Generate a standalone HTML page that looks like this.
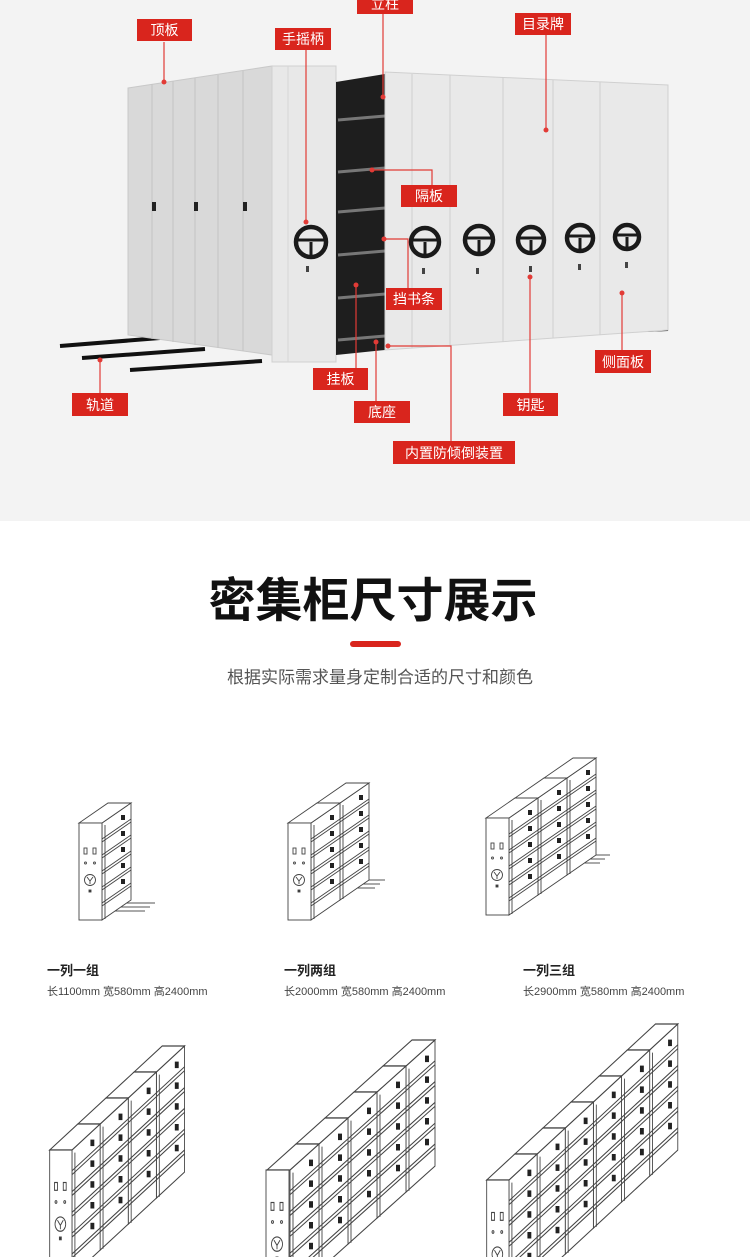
<!DOCTYPE html>
<html><head><meta charset="utf-8"><style>
html,body{margin:0;padding:0;width:750px;height:1257px;overflow:hidden;background:#fff;font-family:"Liberation Sans","Noto Sans CJK SC",sans-serif}
svg{position:absolute;left:0;top:0}
</style></head><body>
<svg width="750" height="1257" viewBox="0 0 750 1257" xmlns="http://www.w3.org/2000/svg">
<defs>
<g id="bay" fill="none" stroke="#444" stroke-width="0.9">
  <polygon points="0,0 29,-20 29,77 0,97" fill="#fff"/>
  <line x1="3" y1="2" x2="3" y2="96"/>
  <path d="M0,16 L29,-4 M0,19 L29,-1 M0,32 L29,12 M0,35 L29,15 M0,48 L29,28 M0,51 L29,31 M0,64 L29,44 M0,67 L29,47 M0,80 L29,60 M0,83 L29,63"/>
  <rect x="19" y="-8" width="4" height="5" fill="#222" stroke="none"/>
  <rect x="19" y="8" width="4" height="5" fill="#222" stroke="none"/>
  <rect x="19" y="24" width="4" height="5" fill="#222" stroke="none"/>
  <rect x="19" y="40" width="4" height="5" fill="#222" stroke="none"/>
  <rect x="19" y="56" width="4" height="5" fill="#222" stroke="none"/>
  <polygon points="-23,0 0,0 29,-20 6,-20" fill="#fff"/>
</g>
<g id="end" fill="none" stroke="#444" stroke-width="0.9">
  <rect x="0" y="0" width="23" height="97" fill="#fff"/>
  <rect x="5" y="25" width="3" height="6" /><rect x="14" y="25" width="3" height="6"/>
  <circle cx="6.5" cy="40" r="1"/><circle cx="15.5" cy="40" r="1"/>
  <circle cx="11" cy="57" r="5.5"/><path d="M8,54 L11,58 L14,54 M11,58 L11,61"/>
  <rect x="10" y="67" width="2" height="2" fill="#333"/>
</g>
<g id="rails" stroke="#555" stroke-width="1">
  <path d="M0,0 H30 M-5,4 H25 M-10,8 H20"/>
</g>
</defs>

<rect x="0" y="0" width="750" height="521" fill="#f3f3f3"/>
<g stroke="#111" stroke-width="4">
<line x1="60" y1="346" x2="160" y2="338"/>
<line x1="82" y1="358" x2="205" y2="349"/>
<line x1="130" y1="370" x2="262" y2="361"/>
<line x1="645" y1="330" x2="668" y2="329"/>
</g>
<polygon points="128,88 272,66 272,355 128,335" fill="#d9d9d9" stroke="#c8c8c8"/>
<g stroke="#c4c4c4"><line x1="152" y1="84" x2="152" y2="339"/><line x1="173" y1="81" x2="173" y2="342"/><line x1="195" y1="78" x2="195" y2="345"/><line x1="218" y1="75" x2="218" y2="348"/><line x1="243" y1="71" x2="243" y2="351"/></g>
<rect x="152" y="202" width="4" height="9" fill="#222"/><rect x="194" y="202" width="4" height="9" fill="#222"/><rect x="243" y="202" width="4" height="9" fill="#222"/>
<rect x="272" y="66" width="64" height="296" fill="#e8e8e8" stroke="#d0d0d0"/>
<line x1="288" y1="66" x2="288" y2="362" stroke="#d6d6d6"/>
<polygon points="336,82 385,74 385,350 336,355" fill="#1e1e1e"/>
<g stroke="#777" stroke-width="3"><line x1="338" y1="120" x2="385" y2="116"/><line x1="338" y1="172" x2="385" y2="168"/><line x1="338" y1="212" x2="385" y2="208"/><line x1="338" y1="255" x2="385" y2="251"/><line x1="338" y1="298" x2="385" y2="294"/><line x1="338" y1="340" x2="385" y2="336"/></g>
<polygon points="385,72 668,85 668,330 385,350" fill="#e9e9e9" stroke="#d0d0d0"/>
<g stroke="#cfcfcf"><line x1="450" y1="75" x2="450" y2="346"/><line x1="503" y1="77" x2="503" y2="342"/><line x1="553" y1="80" x2="553" y2="338"/><line x1="600" y1="82" x2="600" y2="335"/><line x1="412" y1="74" x2="412" y2="348"/></g>
<g fill="none" stroke="#1a1a1a" stroke-width="4.5">
<circle cx="311" cy="242" r="15"/><circle cx="425" cy="242" r="14"/><circle cx="479" cy="240" r="14"/><circle cx="531" cy="240" r="13"/><circle cx="580" cy="238" r="13"/><circle cx="627" cy="237" r="12"/>
</g>
<g stroke="#1a1a1a" stroke-width="3">
<path d="M297,240 H325 M311,242 V256"/><path d="M412,240 H438 M425,242 V255"/><path d="M466,238 H492 M479,240 V253"/><path d="M519,238 H543 M531,240 V252"/><path d="M568,236 H592 M580,238 V250"/><path d="M616,235 H638 M627,237 V248"/>
</g>
<g fill="#444"><rect x="306" y="266" width="3" height="6"/><rect x="422" y="268" width="3" height="6"/><rect x="476" y="268" width="3" height="6"/><rect x="529" y="266" width="3" height="6"/><rect x="578" y="264" width="3" height="6"/><rect x="625" y="262" width="3" height="6"/></g>
<g stroke="#e23b36" stroke-width="1.2" fill="none">
<path d="M164,42 V82"/><path d="M306,50 V222"/><path d="M383,14 V97"/><path d="M546,35 V130"/>
<path d="M372,170 H432 V185"/><path d="M384,239 H408 V288"/><path d="M356,285 V368"/><path d="M376,342 V401"/>
<path d="M388,346 H451 V441"/><path d="M530,277 V393"/><path d="M622,293 V350"/><path d="M100,360 V393"/>
</g>
<g fill="#e23b36"><circle cx="164" cy="82" r="2.5"/><circle cx="306" cy="222" r="2.5"/><circle cx="383" cy="97" r="2.5"/><circle cx="546" cy="130" r="2.5"/><circle cx="372" cy="170" r="2.5"/><circle cx="384" cy="239" r="2.5"/><circle cx="356" cy="285" r="2.5"/><circle cx="376" cy="342" r="2.5"/><circle cx="388" cy="346" r="2.5"/><circle cx="530" cy="277" r="2.5"/><circle cx="622" cy="293" r="2.5"/><circle cx="100" cy="360" r="2.5"/></g>
<g fill="#d9251d">
<rect x="137" y="19" width="55" height="22"/><rect x="275" y="28" width="56" height="22"/><rect x="357" y="-6" width="56" height="20"/><rect x="515" y="13" width="56" height="22"/>
<rect x="401" y="185" width="56" height="22"/><rect x="386" y="288" width="56" height="22"/><rect x="313" y="368" width="55" height="22"/><rect x="354" y="401" width="56" height="22"/>
<rect x="393" y="441" width="122" height="23"/><rect x="503" y="393" width="55" height="23"/><rect x="595" y="350" width="56" height="23"/><rect x="72" y="393" width="56" height="23"/>
</g>
<g fill="#fff" font-size="14" text-anchor="middle" font-family="Liberation Sans, Noto Sans CJK SC, sans-serif">
<text x="164.5" y="35">顶板</text><text x="303" y="44">手摇柄</text><text x="385" y="9">立柱</text><text x="543" y="29">目录牌</text>
<text x="429" y="201">隔板</text><text x="414" y="304">挡书条</text><text x="340.5" y="384">挂板</text><text x="382" y="417">底座</text>
<text x="454" y="458">内置防倾倒装置</text><text x="530.5" y="410">钥匙</text><text x="623" y="367">侧面板</text><text x="100" y="410">轨道</text>
</g>

<text x="373" y="617" text-anchor="middle" font-size="47" font-weight="bold" fill="#111" font-family="Liberation Sans, Noto Sans CJK SC, sans-serif">密集柜尺寸展示</text>
<rect x="350" y="641" width="51" height="6" rx="3" fill="#d9251d"/>
<text x="380" y="683" text-anchor="middle" font-size="17" fill="#555" font-family="Liberation Sans, Noto Sans CJK SC, sans-serif">根据实际需求量身定制合适的尺寸和颜色</text>

<use href="#rails" x="125" y="903"/>
<use href="#bay" x="102" y="823"/><use href="#end" x="79" y="823"/>
<use href="#rails" x="355" y="880"/>
<use href="#bay" x="340" y="803"/><use href="#bay" x="311" y="823"/><use href="#end" x="288" y="823"/>
<use href="#rails" x="580" y="855"/>
<use href="#bay" x="567" y="778"/><use href="#bay" x="538" y="798"/><use href="#bay" x="509" y="818"/><use href="#end" x="486" y="818"/>

<g font-family="Liberation Sans, Noto Sans CJK SC, sans-serif">
<text x="47" y="975" font-size="13" font-weight="bold" fill="#222">一列一组</text>
<text x="47" y="995" font-size="11" fill="#444">长1100mm 宽580mm 高2400mm</text>
<text x="284" y="975" font-size="13" font-weight="bold" fill="#222">一列两组</text>
<text x="284" y="995" font-size="11" fill="#444">长2000mm 宽580mm 高2400mm</text>
<text x="523" y="975" font-size="13" font-weight="bold" fill="#222">一列三组</text>
<text x="523" y="995" font-size="11" fill="#444">长2900mm 宽580mm 高2400mm</text>
</g>

<g transform="translate(72,1150) scale(0.97,1.3)">
<use href="#bay" x="87" y="-60"/><use href="#bay" x="58" y="-40"/><use href="#bay" x="29" y="-20"/><use href="#bay" x="0" y="0"/><use href="#end" x="-23" y="0"/>
</g>
<g transform="translate(290,1170) scale(1,1.3)">
<use href="#bay" x="116" y="-80"/><use href="#bay" x="87" y="-60"/><use href="#bay" x="58" y="-40"/><use href="#bay" x="29" y="-20"/><use href="#bay" x="0" y="0"/><use href="#end" x="-24" y="0"/>
</g>
<g transform="translate(509,1180) scale(0.97,1.3)">
<use href="#bay" x="145" y="-100"/><use href="#bay" x="116" y="-80"/><use href="#bay" x="87" y="-60"/><use href="#bay" x="58" y="-40"/><use href="#bay" x="29" y="-20"/><use href="#bay" x="0" y="0"/><use href="#end" x="-23" y="0"/>
</g>
</svg>
</body></html>
